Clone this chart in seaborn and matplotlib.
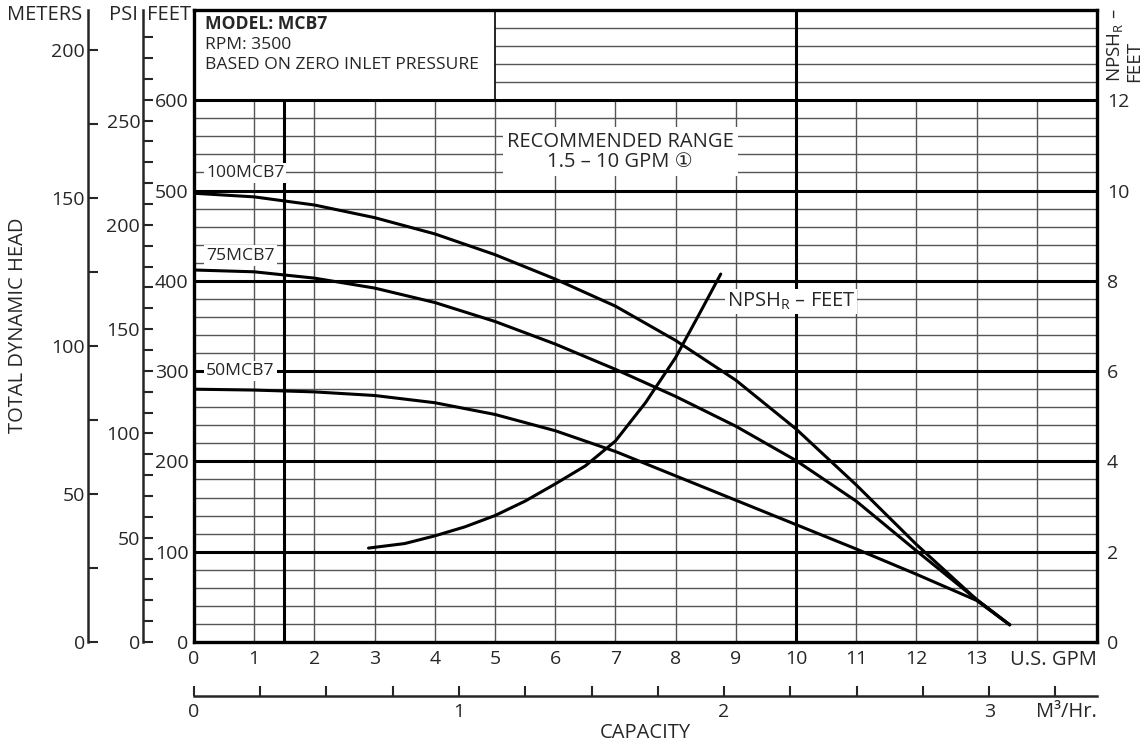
import matplotlib
matplotlib.use('Agg')
import matplotlib.pyplot as plt
import pandas as pd
import seaborn as sns

# pump curves (capacity in US GPM, head in feet)
gpm_100 = [0, 1, 2, 3, 4, 5, 6, 7, 8, 9, 10, 11, 12, 13, 13.55]
head_100 = [497, 493, 484, 470, 452, 429, 402, 372, 334, 290, 236, 174, 108, 47, 19]
gpm_75 = [0, 1, 2, 3, 4, 5, 6, 7, 8, 9, 10, 11, 12, 13, 13.55]
head_75 = [412, 410, 403, 392, 376, 355, 330, 302, 272, 239, 201, 156, 101, 47, 19]
gpm_50 = [0, 1, 2, 3, 4, 5, 6, 7, 8, 9, 10, 11, 12, 13, 13.55]
head_50 = [280, 279, 277, 273, 265, 252, 234, 211, 184, 157, 130, 103, 75, 46, 19]
# NPSHr curve (feet, right axis)
npsh_gpm = [2.9, 3.5, 4.0, 4.5, 5.0, 5.5, 6.0, 6.5, 7.0, 7.5, 8.0, 8.4, 8.75]
npsh_val = [2.08, 2.18, 2.35, 2.55, 2.8, 3.12, 3.5, 3.9, 4.45, 5.3, 6.3, 7.28, 8.15]

curve_names = ['100MCB7', '75MCB7', '50MCB7']
gpm_ticks = list(range(0, 14))
feet_ticks = [0, 100, 200, 300, 400, 500, 600]
psi_ticks = [0, 50, 100, 150, 200, 250]
meter_ticks = [0, 50, 100, 150, 200]
npsh_ticks = [0, 2, 4, 6, 8, 10, 12]
m3_ticks = [0, 1, 2, 3]

sns.set_style('white')
plt.rcParams['font.family'] = ['Open Sans', 'DejaVu Sans', 'Noto Sans CJK JP']
FS = 14.5      # axis titles / annotations
TS = 14        # tick labels
SS = 12.6      # model box and curve names

fig = plt.figure(figsize=(11.47, 7.45), dpi=100)
ax = fig.add_axes([0.1691, 0.1383, 0.7873, 0.8483])
ax.set_xlim(0, 15)
ax.set_ylim(0, 700)

# grid
thin = dict(color='#555555', lw=1.0, zorder=1)
thick = dict(color='black', lw=2.2, zorder=2)
for g in range(1, 15):
    if g != 10:
        ax.vlines(g, 0, 600, **thin)
for f in range(20, 700, 20):
    if f % 100 == 0:
        continue
    ax.hlines(f, 5 if f > 600 else 0, 15, **thin)
for f in range(100, 700, 100):
    ax.hlines(f, 0, 15, **thick)
ax.vlines(1.5, 0, 600, **thick)
ax.vlines(10, 0, 700, **thick)
ax.vlines(5, 600, 700, color='black', lw=1.2, zorder=2)

pumps = pd.DataFrame({
    'gpm': gpm_100 + gpm_75 + gpm_50,
    'head': head_100 + head_75 + head_50,
    'model': [curve_names[0]] * len(gpm_100) + [curve_names[1]] * len(gpm_75) + [curve_names[2]] * len(gpm_50),
})
sns.lineplot(data=pumps, x='gpm', y='head', units='model', estimator=None, sort=False,
             color='black', lw=2.2, ax=ax, zorder=4, legend=False)
npsh = pd.DataFrame({'gpm': npsh_gpm, 'ft': [v * 50 for v in npsh_val]})
sns.lineplot(data=npsh, x='gpm', y='ft', sort=False, color='black', lw=2.2, ax=ax, zorder=4)

box = dict(facecolor='white', edgecolor='none', pad=1.5)
ax.text(0.2, 519, curve_names[0], fontsize=SS, va='center', bbox=box, zorder=5)
ax.text(0.2, 428, curve_names[1], fontsize=SS, va='center', bbox=box, zorder=5)
ax.text(0.2, 300, curve_names[2], fontsize=SS, va='center', bbox=box, zorder=5)
ax.text(7.08, 543, 'RECOMMENDED RANGE\n1.5 – 10 GPM \u2460', fontsize=FS, ha='center', va='center',
        multialignment='center', linespacing=1.0, bbox=dict(facecolor='white', edgecolor='none', pad=3), zorder=5)
ax.text(8.85, 377, r'NPSH$_\mathregular{R}$ – FEET', fontsize=FS, va='center', bbox=box, zorder=5)

ax.text(0.18, 685, 'MODEL: MCB7', fontsize=SS, fontweight='bold', va='center', zorder=5)
ax.text(0.18, 661, 'RPM: 3500', fontsize=SS, va='center', zorder=5)
ax.text(0.18, 639, 'BASED ON ZERO INLET PRESSURE', fontsize=SS, va='center', zorder=5)

ax.set_xticks(gpm_ticks)
ax.set_yticks(feet_ticks)
ax.set_xlabel('')
ax.set_ylabel('')
ax.tick_params(axis='x', length=0, pad=6, labelsize=TS)
ax.tick_params(axis='y', length=3, width=1.5, direction='out', pad=1, labelsize=TS)
for s in ax.spines.values():
    s.set_linewidth(2.4)
    s.set_color('black')
    s.set_zorder(6)

# right: NPSHr
ax_n = ax.secondary_yaxis('right', functions=(lambda f: f / 50, lambda n: n * 50))
ax_n.set_yticks(npsh_ticks)
ax_n.tick_params(length=0, pad=7, labelsize=TS)
ax_n.spines['right'].set_visible(False)

# left: PSI and meters
ax_psi = ax.secondary_yaxis(-0.0565, functions=(lambda f: f / 2.31, lambda p: p * 2.31))
ax_psi.set_yticks(psi_ticks)
ax_psi.set_yticks(list(range(0, 300, 10)), minor=True)
ax_psi.tick_params(which='both', direction='in', length=7, width=1.5, labelsize=TS, pad=2)
ax_psi.spines['left'].set_linewidth(1.8)

ax_m = ax.secondary_yaxis(-0.1174, functions=(lambda f: f / 3.281, lambda m: m * 3.281))
ax_m.set_yticks(meter_ticks)
ax_m.set_yticks(list(range(0, 225, 25)), minor=True)
ax_m.tick_params(which='both', direction='in', length=7, width=1.5, labelsize=TS, pad=2)
ax_m.spines['left'].set_linewidth(1.8)

# bottom: cubic meters per hour
ax_q = ax.secondary_xaxis(-0.0854, functions=(lambda g: g / 4.403, lambda q: q * 4.403))
ax_q.set_xticks(m3_ticks)
ax_q.set_xticks([i * 0.25 for i in range(0, 14)], minor=True)
ax_q.tick_params(which='both', direction='in', length=7, width=1.5, labelsize=TS, pad=5)
ax_q.spines['bottom'].set_linewidth(1.8)

fig.text(0.9564, 0.114, 'U.S. GPM', fontsize=FS, ha='right', va='center')
fig.text(0.9564, 0.0443, 'M\u00b3/Hr.', fontsize=FS, ha='right', va='center')
fig.text(0.5623, 0.0161, 'CAPACITY', fontsize=FS, ha='center', va='center')
fig.text(18 / 1147, 1 - 325 / 745, 'TOTAL DYNAMIC HEAD', fontsize=FS, rotation=90, ha='center', va='center')
fig.text(82 / 1147, 1 - 15 / 745, 'METERS', fontsize=FS, ha='right', va='center')
fig.text(138 / 1147, 1 - 15 / 745, 'PSI', fontsize=FS, ha='right', va='center')
fig.text(147 / 1147, 1 - 15 / 745, 'FEET', fontsize=FS, ha='left', va='center')
fig.text(1124 / 1147, 1 - 82 / 745, 'NPSH$_\\mathregular{R}$ –\nFEET', fontsize=FS - 1, rotation=90,
         ha='center', va='bottom', multialignment='left', linespacing=0.95)

fig.savefig('out.png', dpi=100)
